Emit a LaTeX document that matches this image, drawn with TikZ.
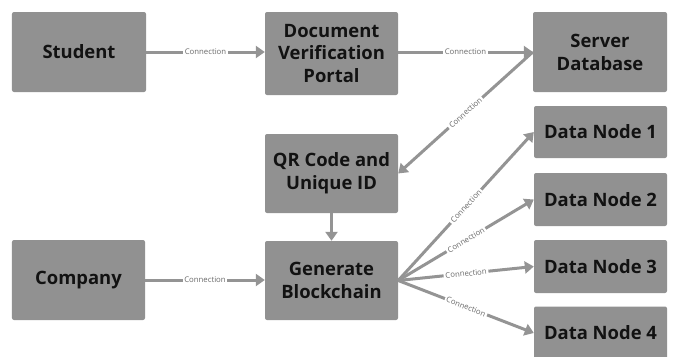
\documentclass[tikz,border=0pt]{standalone}
\usepackage{fontspec}
\setmainfont{Open Sans}
\usetikzlibrary{arrows.meta}
\definecolor{boxgray}{HTML}{919191}
\definecolor{linegray}{HTML}{949494}
\definecolor{txtdark}{HTML}{121212}
\definecolor{lblgray}{HTML}{6A6A6A}
\tikzset{
  box/.style={draw=none, fill=boxgray, rounded corners=2bp, text=txtdark,
    font=\fontsize{18.5}{23}\selectfont\bfseries, align=center, inner sep=0pt},
  conn/.style={draw=linegray, line width=3bp, -{Triangle[length=9bp,width=12bp]}},
  lbl/.style={fill=white, text=lblgray, font=\fontsize{7.8}{9}\selectfont, inner sep=1.8bp}
}
\begin{document}
\begin{tikzpicture}[x=1bp,y=-1bp]
\useasboundingbox (0,0) rectangle (674,356);
\clip (0,0) rectangle (674,356);
\node[box, minimum width=134bp, minimum height=80bp] (student) at (79,52) {Student};
\node[box, minimum width=133bp, minimum height=83bp] (dvp) at (331.5,53.5) {Document\\Verification\\Portal};
\node[box, minimum width=134bp, minimum height=80bp] (server) at (600,52) {Server\\Database};
\node[box, minimum width=133bp, minimum height=79bp] (qr) at (331.5,173.5) {QR Code and\\Unique ID};
\node[box, minimum width=133bp, minimum height=80bp] (company) at (78.5,280) {Company};
\node[box, minimum width=133bp, minimum height=79bp] (gen) at (331.5,280.5) {Generate\\Blockchain};
\node[box, minimum width=133bp, minimum height=52bp] (dn1) at (600.5,132) {Data Node 1};
\node[box, minimum width=133bp, minimum height=53bp] (dn2) at (600.5,199.5) {Data Node 2};
\node[box, minimum width=133bp, minimum height=53bp] (dn3) at (600.5,266.5) {Data Node 3};
\node[box, minimum width=133bp, minimum height=53bp] (dn4) at (600.5,333) {Data Node 4};

\draw[conn] (student.east) -- node[lbl] {Connection} (student.east -| dvp.west);
\draw[conn] (dvp.east |- server.west) -- node[lbl] {Connection} (server.west);
\draw[conn] (server.west) -- node[lbl, sloped] {Connection} (qr.east);
\draw[conn] (qr.south) -- (gen.north);
\draw[conn] (company.east) -- node[lbl] {Connection} (company.east -| gen.west);
\draw[conn] (gen.east) -- node[lbl, sloped] {Connection} (dn1.west);
\draw[conn] (gen.east) -- node[lbl, sloped] {Connection} (dn2.west);
\draw[conn] (gen.east) -- node[lbl, sloped] {Connection} (dn3.west);
\draw[conn] (gen.east) -- node[lbl, sloped] {Connection} (dn4.west);
\end{tikzpicture}
\end{document}
